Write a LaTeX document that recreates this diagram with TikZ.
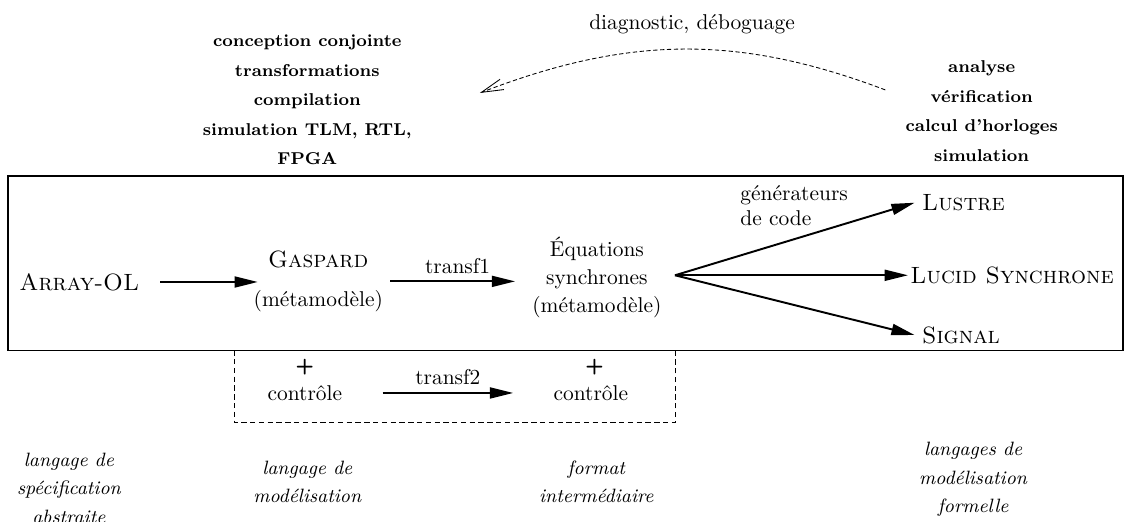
\documentclass[tikz,border=0pt]{standalone}
\usepackage{tikz}
\usetikzlibrary{arrows.meta}

\tikzset{
  flow/.style={-{Triangle[length=3.8mm,width=1.8mm]}, line width=0.9pt},
  tools/.style={font=\fontsize{8}{13.8}\selectfont\bfseries, align=center},
  level/.style={font=\fontsize{9}{13.3}\selectfont\itshape, align=center},
  lang/.style={font=\fontsize{11}{13}\selectfont\scshape},
  plus/.style={font=\sffamily\bfseries},
}

\begin{document}
\begin{tikzpicture}
    \useasboundingbox (0,0) rectangle (18.5,8.545);

    % Frames
    \draw[line width=0.7pt] (0.13,2.80) rectangle (18.42,5.66);
    \draw[thin, dash pattern=on 2.5pt off 1.6pt] (3.85,2.80) -- (3.85,1.61) -- (11.07,1.61) -- (11.07,2.80);

    % Chain of models
    \node[lang] (array) at (1.30,3.92) {Array-OL};
    \node[align=center] (gaspard) at (5.22,3.93) {{\fontsize{11}{13}\selectfont\scshape Gaspard}\\[6pt](m\'etamod\`ele)};
    \node[align=center] (eqs) at (9.79,3.99) {\'Equations\\[1pt]synchrones\\[1pt](m\'etamod\`ele)};
    \draw[flow, shorten <=0.22cm, shorten >=-0.19cm] (array.east) -- (array.east -| gaspard.west);
    \draw[flow, shorten >=0.16cm] (gaspard.east) -- (gaspard.east -| eqs.west)
        node[midway, above] (t1) {transf1};

    % Code generators
    \coordinate (fan) at (11.07,4.03);
    \node[lang, anchor=west] (lustre) at (15.00,5.22) {Lustre};
    \node[lang, anchor=west, inner xsep=1pt] (lucid) at (14.89,4.03) {Lucid Synchrone};
    \node[lang, anchor=west] (signal) at (15.00,3.05) {Signal};
    \node[anchor=west, align=left] (gen) at (12.02,5.17) {g\'en\'erateurs\\de code};
    \draw[flow] (fan) -- (lustre.west);
    \draw[flow] (fan) -- (lucid.west);
    \draw[flow] (fan) -- (signal.west);

    % Control
    \node (ctrlA) at (5.00,2.10) {contr\^ole};
    \node[plus] (plusA) at (5.00,2.53) {+};
    \node (ctrlB) at (9.69,2.10) {contr\^ole};
    \node[plus] (plusB) at (9.75,2.53) {+};
    \draw[flow, shorten <=0.54cm, shorten >=0.54cm] (ctrlA) -- (ctrlB)
        node[midway, above] (t2) {transf2};

    % Tools and feedback
    \node[tools] (design) at (5.04,6.905) {conception conjointe\\transformations\\compilation\\simulation TLM, RTL,\\FPGA};
    \node[tools] (check) at (16.10,6.725) {analyse\\v\'erification\\calcul d\textquoteright horloges\\simulation};
    \coordinate (dbgfrom) at (14.52,7.07);
    \coordinate (dbgto) at (7.87,7.02);
    \draw[thin, dash pattern=on 2pt off 1.2pt, -{Straight Barb[length=3.6mm,width=1.8mm]}]
        (dbgfrom) .. controls (12.14,7.97) and (10.33,7.97) .. (dbgto);
    \node (dbg) at (11.35,8.15) {diagnostic, d\'eboguage};

    % Levels
    \node[level] (spec) at (1.13,0.54) {langage de\\sp\'ecification\\abstraite};
    \node[level] (model) at (5.04,0.64) {langage de\\mod\'elisation};
    \node[level] (inter) at (9.78,0.64) {format\\interm\'ediaire};
    \node[level] (formal) at (15.96,0.68) {langages de\\mod\'elisation\\formelle};

\end{tikzpicture}
\end{document}
